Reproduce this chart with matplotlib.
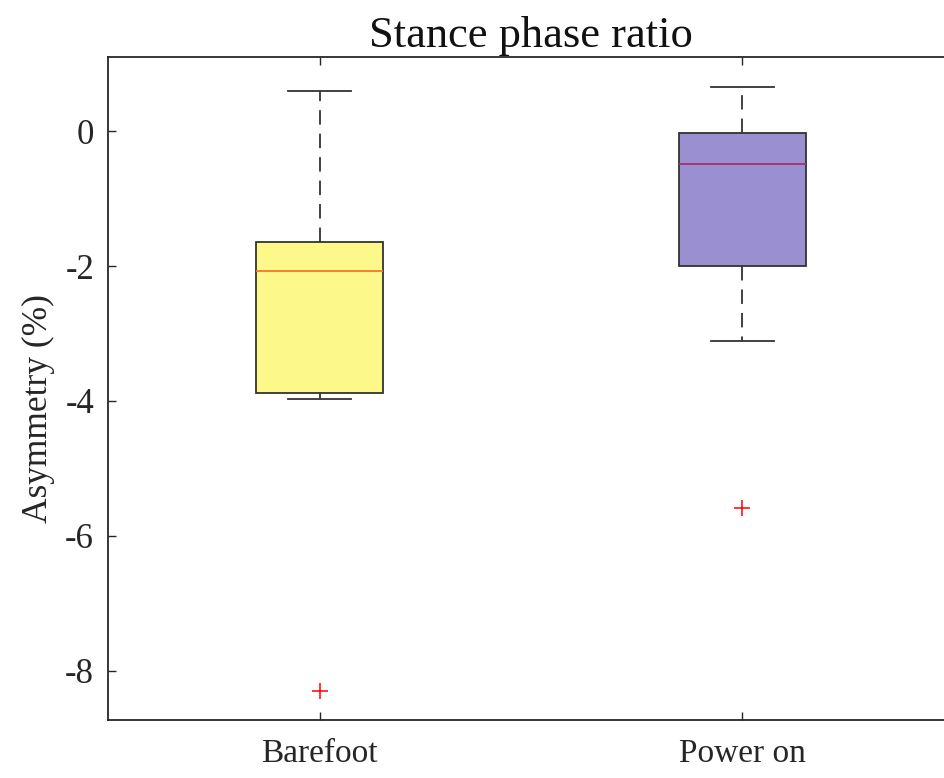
import matplotlib
matplotlib.use("Agg")
import matplotlib.pyplot as plt

plt.rcParams['font.family'] = ['Liberation Serif', 'DejaVu Serif']
plt.rcParams['axes.unicode_minus'] = False

groups = ["Barefoot", "Power on"]
whislo = [-3.97, -3.11]
q1 = [-3.88, -2.00]
med = [-2.07, -0.49]
q3 = [-1.64, -0.03]
whishi = [0.60, 0.65]
outliers = [[-8.30], [-5.59]]

box_colors = ["#fcf98a", "#9a8fd0"]
median_colors = ["#ef7a2a", "#a0306e"]

stats = []
for i, g in enumerate(groups):
    stats.append(dict(label=g, whislo=whislo[i], q1=q1[i], med=med[i], q3=q3[i],
                      whishi=whishi[i], fliers=outliers[i]))

fig = plt.figure(figsize=(9.45, 7.78), dpi=100)
ax = fig.add_axes([0.1143, 0.0746, 0.8952, 0.8521])

bp = ax.bxp(stats, positions=[1, 2], widths=0.3, patch_artist=True,
            boxprops=dict(edgecolor="#333333", linewidth=1.3),
            whiskerprops=dict(color="#333333", linestyle=(0, (8, 5)), linewidth=1.3),
            capprops=dict(color="#333333", linewidth=1.3),
            flierprops=dict(marker="+", markeredgecolor="red", markersize=11, markeredgewidth=1.1),
            medianprops=dict(linewidth=1.3))
for i in range(2):
    bp['boxes'][i].set_facecolor(box_colors[i])
    bp['medians'][i].set_color(median_colors[i])
    for c in bp['caps'][2 * i:2 * i + 2]:
        x0, x1 = c.get_xdata()
        m = (x0 + x1) / 2
        c.set_xdata([m - 0.075, m + 0.075])

ax.set_xlim(0.5, 2.5)
ax.set_ylim(-8.73, 1.1)
ax.set_yticks([-8, -6, -4, -2, 0])
ax.set_xticks([1, 2])
ax.set_xticklabels(groups)
ax.tick_params(direction="in", length=6, width=1, colors="#262626", labelsize=25,
               top=True, right=True, pad=10)
ax.tick_params(axis="x", labelsize=24, pad=13)
for s in ax.spines.values():
    s.set_color("#262626")
    s.set_linewidth(1.3)
ax.set_ylabel("Asymmetry (%)", fontsize=25.5, color="#262626")
ax.yaxis.set_label_coords(-0.063, 0.47)
ax.set_title("Stance phase ratio", fontsize=32, color="#111111", pad=7)

fig.savefig("out.png", dpi=100)
